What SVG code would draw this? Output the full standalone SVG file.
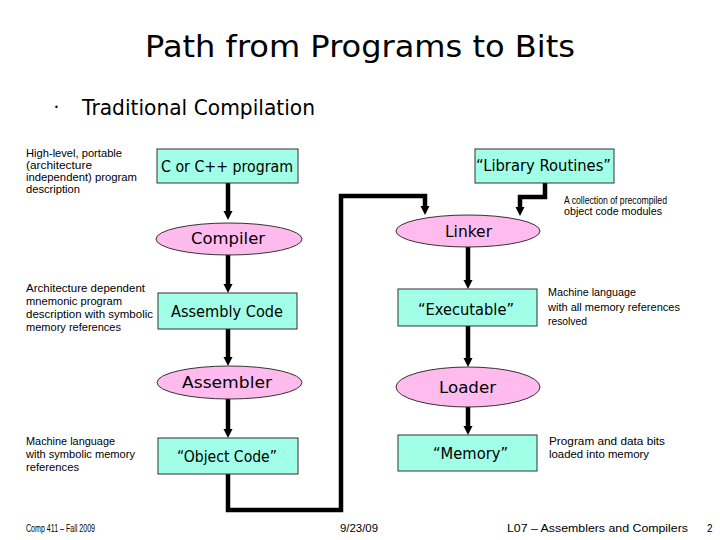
<svg xmlns="http://www.w3.org/2000/svg" width="720" height="540" viewBox="0 0 720 540">
<defs>
<style>
.box{fill:#a0ffe6;stroke:#333;stroke-width:1}
.ell{fill:#ffbbee;stroke:#333;stroke-width:1}
.lbl{font-family:"DejaVu Sans","Liberation Sans",sans-serif;font-size:16px;fill:#000;text-anchor:middle}
.note{font-family:"Liberation Sans","DejaVu Sans",sans-serif;font-size:10.5px;fill:#000}
.foot{font-family:"Liberation Sans","DejaVu Sans",sans-serif;font-size:10px;fill:#000}
.con{fill:none;stroke:#000;stroke-width:4.5;stroke-linejoin:miter}
</style>
<marker id="ah" viewBox="0 0 10 10" refX="0" refY="5" markerWidth="9" markerHeight="11" markerUnits="userSpaceOnUse" orient="auto">
<path d="M0,0 L10,5 L0,10 z" fill="#000"/>
</marker>
</defs>
<rect width="720" height="540" fill="#fff"/>

<text x="145" y="57" font-family="DejaVu Sans, sans-serif" font-size="30" textLength="430" lengthAdjust="spacingAndGlyphs">Path from Programs to Bits</text>
<text x="54" y="110" font-family="DejaVu Sans, sans-serif" font-size="8">•</text>
<text x="82" y="115" font-family="DejaVu Sans, sans-serif" font-size="22" textLength="233" lengthAdjust="spacingAndGlyphs">Traditional Compilation</text>

<g id="connectors">
<path class="con" d="M228,183 V211" marker-end="url(#ah)"/>
<path class="con" d="M228,254 V284" marker-end="url(#ah)"/>
<path class="con" d="M228,329 V357" marker-end="url(#ah)"/>
<path class="con" d="M228,398 V429" marker-end="url(#ah)"/>
<path class="con" d="M228,474 V510 H341 V196 H425 V206" marker-end="url(#ah)"/>
<path class="con" d="M545,183 V197 H520 V207" marker-end="url(#ah)"/>
<path class="con" d="M468,245 V280" marker-end="url(#ah)"/>
<path class="con" d="M468,326 V358" marker-end="url(#ah)"/>
<path class="con" d="M468,407 V426" marker-end="url(#ah)"/>
</g>

<g id="cprog"><rect class="box" x="157" y="149" width="141" height="34"/><text class="lbl" x="227" y="172" textLength="132" lengthAdjust="spacingAndGlyphs">C or C++ program</text></g>
<g id="compiler"><ellipse class="ell" cx="229" cy="239" rx="73" ry="16"/><text class="lbl" x="228" y="244" textLength="74" lengthAdjust="spacingAndGlyphs">Compiler</text></g>
<g id="library"><rect class="box" x="475" y="149" width="139" height="34"/><text class="lbl" x="543.5" y="171" textLength="135" lengthAdjust="spacingAndGlyphs">“Library Routines”</text></g>
<g id="linker"><ellipse class="ell" cx="468" cy="231" rx="72" ry="16"/><text class="lbl" x="468.5" y="237" textLength="47" lengthAdjust="spacingAndGlyphs">Linker</text></g>
<g id="assembly"><rect class="box" x="158" y="293" width="139" height="36"/><text class="lbl" x="227" y="317" textLength="112" lengthAdjust="spacingAndGlyphs">Assembly Code</text></g>
<g id="executable"><rect class="box" x="398" y="289" width="139" height="37"/><text class="lbl" x="466" y="315" textLength="96" lengthAdjust="spacingAndGlyphs">“Executable”</text></g>
<g id="assembler"><ellipse class="ell" cx="229.5" cy="382.5" rx="72.5" ry="16.5"/><text class="lbl" x="227" y="388" textLength="90" lengthAdjust="spacingAndGlyphs">Assembler</text></g>
<g id="loader"><ellipse class="ell" cx="468" cy="387" rx="72" ry="20"/><text class="lbl" x="467.5" y="393" textLength="57" lengthAdjust="spacingAndGlyphs">Loader</text></g>
<g id="objectcode"><rect class="box" x="158" y="438" width="140" height="36"/><text class="lbl" x="227" y="462" textLength="100" lengthAdjust="spacingAndGlyphs">“Object Code”</text></g>
<g id="memory"><rect class="box" x="398" y="435" width="139" height="36"/><text class="lbl" x="470.5" y="459" textLength="75" lengthAdjust="spacingAndGlyphs">“Memory”</text></g>

<g id="notes">
<text class="note" x="26" y="157" textLength="96" lengthAdjust="spacingAndGlyphs">High-level, portable</text>
<text class="note" x="26" y="169" textLength="66" lengthAdjust="spacingAndGlyphs">(architecture</text>
<text class="note" x="26" y="181" textLength="111" lengthAdjust="spacingAndGlyphs">independent) program</text>
<text class="note" x="26" y="193" textLength="54" lengthAdjust="spacingAndGlyphs">description</text>

<text class="note" x="564" y="204" textLength="103" lengthAdjust="spacingAndGlyphs">A collection of precompiled</text>
<text class="note" x="564" y="215" textLength="98" lengthAdjust="spacingAndGlyphs">object code modules</text>

<text class="note" x="26" y="292" textLength="119" lengthAdjust="spacingAndGlyphs">Architecture dependent</text>
<text class="note" x="26" y="305" textLength="96" lengthAdjust="spacingAndGlyphs">mnemonic program</text>
<text class="note" x="26" y="318" textLength="127" lengthAdjust="spacingAndGlyphs">description with symbolic</text>
<text class="note" x="26" y="331" textLength="95" lengthAdjust="spacingAndGlyphs">memory references</text>

<text class="note" x="548" y="296" textLength="88" lengthAdjust="spacingAndGlyphs">Machine language</text>
<text class="note" x="548" y="311" textLength="132" lengthAdjust="spacingAndGlyphs">with all memory references</text>
<text class="note" x="548" y="325" textLength="39" lengthAdjust="spacingAndGlyphs">resolved</text>

<text class="note" x="26" y="445" textLength="89" lengthAdjust="spacingAndGlyphs">Machine language</text>
<text class="note" x="26" y="458" textLength="109" lengthAdjust="spacingAndGlyphs">with symbolic memory</text>
<text class="note" x="26" y="471" textLength="53" lengthAdjust="spacingAndGlyphs">references</text>

<text class="note" x="549" y="445" textLength="116" lengthAdjust="spacingAndGlyphs">Program and data bits</text>
<text class="note" x="549" y="458" textLength="100" lengthAdjust="spacingAndGlyphs">loaded into memory</text>
</g>

<g id="footer">
<text class="foot" x="26" y="532" textLength="69" lengthAdjust="spacingAndGlyphs">Comp 411 – Fall 2009</text>
<text class="foot" x="340" y="532" textLength="38" lengthAdjust="spacingAndGlyphs">9/23/09</text>
<text class="foot" x="507" y="532" textLength="181" lengthAdjust="spacingAndGlyphs">L07 – Assemblers and Compilers</text>
<text class="foot" x="707" y="532">2</text>
</g>
</svg>
